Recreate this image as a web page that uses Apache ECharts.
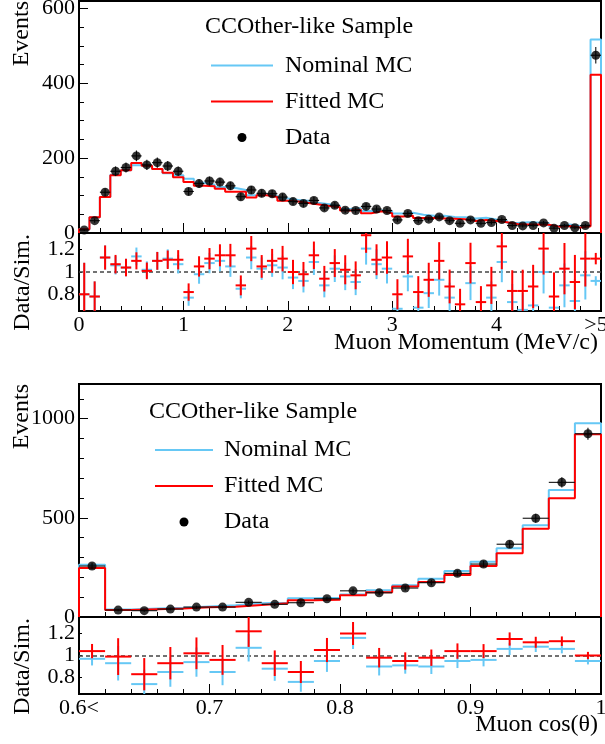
<!DOCTYPE html>
<html>
<head>
<meta charset="utf-8">
<title>CCOther-like Sample</title>
<script src="https://cdn.jsdelivr.net/npm/echarts@6/dist/echarts.min.js"></script>
<style>
html, body { margin: 0; padding: 0; background: #fff; }
#chart { width: 605px; height: 744px; }
</style>
</head>
<body>
<div id="chart"></div>
<script>
// muon momentum: 50 bins of 0.1 from 0 to 5, last bin holds everything >5
const momBinLow = 0
const momBinWidth = 0.1
const momData = [8, 33, 109, 165, 175, 206, 182, 188, 179, 165,
  111, 132, 139, 136, 126, 97, 115, 106, 105, 96,
  84, 79, 87, 67, 74, 61, 60, 71, 64, 60,
  35, 52, 33, 37, 43, 33, 26, 35, 26, 28,
  36, 20, 19, 20, 27, 13, 20, 14, 20, 475]
const momNominal = [10, 42, 96, 156, 168, 181, 179, 171, 160, 154,
  145, 134, 129, 123, 120, 115, 101, 103, 99, 92,
  88, 86, 80, 77, 72, 64, 66, 59, 60, 58,
  52, 54, 49, 46, 46, 43, 42, 39, 41, 36,
  33, 27, 29, 28, 27, 19, 23, 19, 21, 517]
const momFitted = [10, 42, 96, 154, 168, 187, 180, 171, 161, 149,
  136, 126, 125, 118, 110, 110, 95, 101, 96, 86,
  84, 80, 76, 72, 69, 60, 62, 53, 58, 53,
  44, 46, 40, 40, 39, 38, 37, 32, 35, 32,
  29, 24, 23, 23, 22, 17, 19, 15, 18, 423]
// data / simulation
const momRatioNominal = [0.80, 0.78, 1.13, 1.06, 1.04, 1.14, 1.02, 1.10, 1.12, 1.07,
  0.77, 0.98, 1.08, 1.10, 1.05, 0.85, 1.13, 1.03, 1.06, 1.04,
  0.95, 0.92, 1.09, 0.88, 1.03, 0.96, 0.91, 1.21, 1.07, 1.03,
  0.67, 0.96, 0.68, 0.81, 0.93, 0.77, 0.62, 0.90, 0.63, 0.77,
  1.09, 0.73, 0.66, 0.70, 1.00, 0.68, 0.88, 0.74, 0.97, 0.92]
const momRatioFitted = [0.80, 0.78, 1.13, 1.07, 1.04, 1.10, 1.01, 1.10, 1.11, 1.11,
  0.82, 1.05, 1.12, 1.15, 1.15, 0.88, 1.21, 1.05, 1.10, 1.12,
  1.00, 0.98, 1.15, 0.94, 1.08, 1.02, 0.97, 1.33, 1.11, 1.13,
  0.80, 1.14, 0.82, 0.93, 1.10, 0.87, 0.71, 1.08, 0.73, 0.88,
  1.23, 0.83, 0.83, 0.87, 1.21, 0.78, 1.03, 0.91, 1.12, 1.12]

// muon cos(theta): 20 bins of 0.02 from 0.6 to 1, first bin holds everything <0.6
const cosBinLow = 0.6
const cosBinWidth = 0.02
const cosData = [257, 35, 32, 40, 50, 50, 74, 64, 72, 92, 132, 122, 146, 173, 220, 267, 367, 498, 679, 924]
const cosNominal = [264, 38, 43, 47, 53, 59, 69, 72, 94, 97, 113, 135, 160, 193, 232, 278, 347, 463, 641, 977]
const cosFitted = [247, 35, 39, 43, 49, 52, 61, 69, 85, 87, 110, 125, 154, 177, 212, 257, 321, 445, 599, 921]
const cosRatioNominal = [0.97, 0.93, 0.74, 0.85, 0.94, 0.85, 1.07, 0.88, 0.76, 0.95, 1.16, 0.90, 0.91, 0.90, 0.95, 0.96, 1.06, 1.08, 1.06, 0.95]
const cosRatioFitted = [1.04, 0.99, 0.83, 0.93, 1.02, 0.96, 1.22, 0.93, 0.85, 1.05, 1.20, 0.98, 0.95, 0.98, 1.04, 1.04, 1.15, 1.12, 1.13, 1.00]

// axis ticks
const momEventTicks = [0, 200, 400, 600]
const momEventMinorTicks = [50, 100, 150, 250, 300, 350, 450, 500, 550]
const cosEventTicks = [0, 500, 1000]
const cosEventMinorTicks = [100, 200, 300, 400, 600, 700, 800, 900, 1100]
const ratioTicks = [0.8, 1, 1.2]

const BLUE = '#66c8f5'
const RED = '#ff0000'
const FONT = '"Liberation Serif", "Times New Roman", serif'

function edge (low, width, i) {
  return +(low + i * width).toFixed(4)
}

// step outline of a histogram, closed down to zero at both ends
function stepPoints (low, width, values) {
  let pts = [[edge(low, width, 0), 0]]
  values.forEach((v, i) => pts.push([edge(low, width, i), v]))
  pts.push([edge(low, width, values.length), values[values.length - 1]])
  pts.push([edge(low, width, values.length), 0])
  return pts
}

function dataPoints (low, width, values) {
  return values.map((v, i) => [(edge(low, width, i) + edge(low, width, i + 1)) / 2, v])
}

// [binLow, binHigh, value, statistical error]
function dataErrors (low, width, values) {
  return values.map((v, i) => [edge(low, width, i), edge(low, width, i + 1), v, Math.sqrt(v)])
}

function ratioErrors (low, width, ratios, counts) {
  return ratios.map((r, i) => [edge(low, width, i), edge(low, width, i + 1), r, r / Math.sqrt(counts[i])])
}

function crossRenderer (color, lw) {
  return function (params, api) {
    let lo = api.value(0)
    let hi = api.value(1)
    let v = api.value(2)
    let e = api.value(3)
    let mid = (lo + hi) / 2
    let a = api.coord([lo, v])
    let b = api.coord([hi, v])
    let t = api.coord([mid, v + e])
    let d = api.coord([mid, v - e])
    return {
      type: 'group',
      children: [
        { type: 'line', shape: { x1: a[0], y1: a[1], x2: b[0], y2: b[1] }, style: { stroke: color, lineWidth: lw } },
        { type: 'line', shape: { x1: t[0], y1: t[1], x2: d[0], y2: d[1] }, style: { stroke: color, lineWidth: lw } }
      ]
    }
  }
}

function xAxisFor (gridIndex, min, max, interval, withLabels, formatter) {
  return {
    type: 'value',
    gridIndex: gridIndex,
    min: min,
    max: max,
    interval: interval,
    axisLine: { show: false, onZero: false },
    axisTick: { show: true, inside: true, length: 10, lineStyle: { color: '#000', width: 1 } },
    minorTick: { show: true, splitNumber: 5, length: 5, lineStyle: { color: '#000', width: 1 } },
    axisLabel: {
      show: withLabels,
      margin: 3,
      color: '#000',
      fontFamily: FONT,
      fontSize: 22,
      formatter: formatter,
      rich: {
        // the overflow label sits a little left of its tick, as in ROOT
        ovf: { fontFamily: FONT, fontSize: 22, color: '#000', padding: [0, 10, 0, 0] }
      }
    },
    splitLine: { show: false }
  }
}

function yAxisFor (gridIndex, min, max, ticks, tickLen, withLabels) {
  return {
    type: 'value',
    gridIndex: gridIndex,
    position: 'left',
    min: min,
    max: max,
    axisLine: { show: false, onZero: false },
    axisTick: { show: true, inside: true, length: tickLen, customValues: ticks, lineStyle: { color: '#000', width: 1 } },
    axisLabel: {
      show: withLabels,
      customValues: ticks,
      margin: 4,
      color: '#000',
      fontFamily: FONT,
      fontSize: 22,
      formatter: v => String(+v.toFixed(2))
    },
    splitLine: { show: false }
  }
}

function gridAt (top, height) {
  return {
    left: 79,
    width: 522,
    top: top,
    height: height,
    show: true,
    borderColor: '#000',
    borderWidth: 2,
    backgroundColor: 'transparent',
    outerBoundsMode: 'none',
    containLabel: false
  }
}

function legendBlock (x, y, lineLen, labelX) {
  // y = centre line of the header row, rows 36px apart
  return [
    { type: 'text', x: x, y: y, style: { text: 'CCOther-like Sample', font: '24px ' + FONT, fill: '#000', align: 'left', verticalAlign: 'middle', textAlign: 'left', textVerticalAlign: 'middle' } },
    { type: 'line', shape: { x1: x + 6, y1: y + 38.5, x2: x + 6 + lineLen, y2: y + 38.5 }, style: { stroke: BLUE, lineWidth: 2 } },
    { type: 'text', x: labelX, y: y + 38.5, style: { text: 'Nominal MC', font: '24px ' + FONT, fill: '#000', align: 'left', verticalAlign: 'middle', textAlign: 'left', textVerticalAlign: 'middle' } },
    { type: 'line', shape: { x1: x + 6, y1: y + 74.5, x2: x + 6 + lineLen, y2: y + 74.5 }, style: { stroke: RED, lineWidth: 2 } },
    { type: 'text', x: labelX, y: y + 74.5, style: { text: 'Fitted MC', font: '24px ' + FONT, fill: '#000', align: 'left', verticalAlign: 'middle', textAlign: 'left', textVerticalAlign: 'middle' } },
    { type: 'circle', shape: { cx: x + 6 + lineLen / 2, cy: y + 110.5, r: 4.5 }, style: { fill: '#000' } },
    { type: 'text', x: labelX, y: y + 110.5, style: { text: 'Data', font: '24px ' + FONT, fill: '#000', align: 'left', verticalAlign: 'middle', textAlign: 'left', textVerticalAlign: 'middle' } }
  ]
}

function verticalTitle (text, x, yTop) {
  return {
    type: 'text',
    x: x,
    y: yTop,
    rotation: Math.PI / 2,
    style: { text: text, font: '24px ' + FONT, fill: '#000', align: 'right', verticalAlign: 'middle', textAlign: 'right', textVerticalAlign: 'middle' }
  }
}

function horizontalTitle (text, xRight, y) {
  return {
    type: 'text',
    x: xRight,
    y: y,
    style: { text: text, font: '24px ' + FONT, fill: '#000', align: 'right', verticalAlign: 'middle', textAlign: 'right', textVerticalAlign: 'middle' }
  }
}

function panelSeries (xi, yi, rxi, ryi, low, width, data, nominal, fitted, rNominal, rFitted) {
  return [
    {
      name: 'Nominal MC', type: 'line', xAxisIndex: xi, yAxisIndex: yi,
      step: 'end', symbol: 'none', z: 2,
      lineStyle: { color: BLUE, width: 2 },
      data: stepPoints(low, width, nominal)
    },
    {
      name: 'Fitted MC', type: 'line', xAxisIndex: xi, yAxisIndex: yi,
      step: 'end', symbol: 'none', z: 3,
      lineStyle: { color: RED, width: 2 },
      data: stepPoints(low, width, fitted)
    },
    {
      name: 'Data errors', type: 'custom', xAxisIndex: xi, yAxisIndex: yi, z: 4, clip: true,
      renderItem: crossRenderer('#111', 1.1),
      data: dataErrors(low, width, data)
    },
    {
      name: 'Data', type: 'scatter', xAxisIndex: xi, yAxisIndex: yi, z: 5,
      symbol: 'circle', symbolSize: 9,
      itemStyle: { color: '#000' },
      data: dataPoints(low, width, data)
    },
    {
      name: 'Data/Nominal', type: 'custom', xAxisIndex: rxi, yAxisIndex: ryi, z: 2, clip: true,
      renderItem: crossRenderer(BLUE, 2),
      data: ratioErrors(low, width, rNominal, data),
      markLine: {
        silent: true,
        z: 1,
        symbol: 'none',
        label: { show: false },
        lineStyle: { color: '#444', width: 1.5, type: [4, 3] },
        data: [{ yAxis: 1 }]
      }
    },
    {
      name: 'Data/Fitted', type: 'custom', xAxisIndex: rxi, yAxisIndex: ryi, z: 3, clip: true,
      renderItem: crossRenderer(RED, 2),
      data: ratioErrors(low, width, rFitted, data)
    }
  ]
}

let myChart = echarts.init(document.getElementById('chart'), null, { renderer: 'canvas' })

myChart.setOption({
  animation: false,
  backgroundColor: '#fff',
  grid: [
    gridAt(1, 232),
    gridAt(233, 78),
    gridAt(384, 233),
    gridAt(617, 77)
  ],
  xAxis: [
    xAxisFor(0, 0, 5, 1, false),
    xAxisFor(1, 0, 5, 1, true, v => (v === 5 ? '{ovf|>5}' : String(v))),
    xAxisFor(2, 0.6, 1, 0.1, false),
    xAxisFor(3, 0.6, 1, 0.1, true, v => {
      if (Math.abs(v - 0.6) < 1e-6) return '0.6<'
      if (Math.abs(v - 1) < 1e-6) return '1'
      return v.toFixed(1)
    })
  ],
  yAxis: [
    yAxisFor(0, 0, 620, momEventTicks, 9, true),
    yAxisFor(0, 0, 620, momEventMinorTicks, 5, false),
    yAxisFor(1, 0.65, 1.35, ratioTicks, 3, true),
    yAxisFor(2, 0, 1175, cosEventTicks, 9, true),
    yAxisFor(2, 0, 1175, cosEventMinorTicks, 5, false),
    yAxisFor(3, 0.65, 1.35, ratioTicks, 3, true)
  ],
  graphic: [
    ...legendBlock(205, 27, 62, 285),
    ...legendBlock(149, 411.5, 58, 224),
    verticalTitle('Events', 22, 1),
    verticalTitle('Data/Sim.', 23, 234),
    verticalTitle('Events', 22, 384),
    verticalTitle('Data/Sim.', 23, 618),
    horizontalTitle('Muon Momentum (MeV/c)', 598, 343),
    horizontalTitle('Muon cos(θ)', 598, 725)
  ],
  series: [
    ...panelSeries(0, 0, 1, 2, momBinLow, momBinWidth, momData, momNominal, momFitted, momRatioNominal, momRatioFitted),
    ...panelSeries(2, 3, 3, 5, cosBinLow, cosBinWidth, cosData, cosNominal, cosFitted, cosRatioNominal, cosRatioFitted)
  ]
})

window.addEventListener('resize', function () {
  myChart.resize()
})
</script>
</body>
</html>
